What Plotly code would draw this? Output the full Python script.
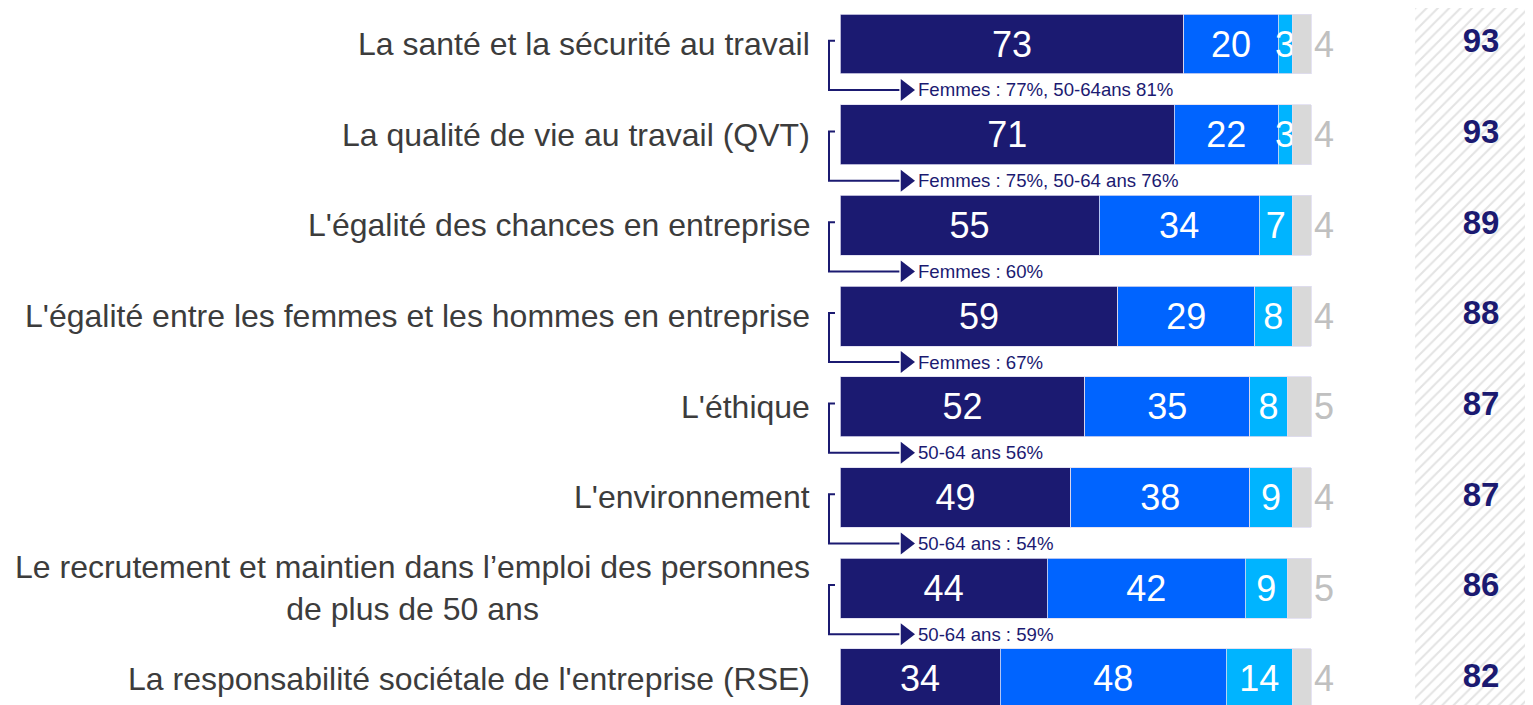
import plotly.graph_objects as go

# --- data -----------------------------------------------------------------
categories = [
    "La santé et la sécurité au travail",
    "La qualité de vie au travail (QVT)",
    "L'égalité des chances en entreprise",
    "L'égalité entre les femmes et les hommes en entreprise",
    "L'éthique",
    "L'environnement",
    "Le recrutement et maintien dans l’emploi des personnes<br>de plus de 50 ans",
    "La responsabilité sociétale de l'entreprise (RSE)",
]
tres_important = [73, 71, 55, 59, 52, 49, 44, 34]
assez_important = [20, 22, 34, 29, 35, 38, 42, 48]
peu_important = [3, 3, 7, 8, 8, 9, 9, 14]
pas_important = [4, 4, 4, 4, 5, 4, 5, 4]
totals = [93, 93, 89, 88, 87, 87, 86, 82]
notes = [
    "Femmes : 77%, 50-64ans 81%",
    "Femmes : 75%, 50-64 ans 76%",
    "Femmes : 60%",
    "Femmes : 67%",
    "50-64 ans 56%",
    "50-64 ans : 54%",
    "50-64 ans : 59%",
    "",
]

# --- style ----------------------------------------------------------------
FONT = "Arial, Liberation Sans, sans-serif"
NAVY = "#1b1a71"
BLUE = "#0064ff"
CYAN = "#00b4ff"
GREY = "#d9d9d9"
GREY_TXT = "#c0c0c0"
LABEL_TXT = "#3c3c3c"

rows = list(range(len(categories)))

fig = go.Figure()

# hatched panel behind the totals
fig.add_trace(go.Scatter(
    x=[122.1, 150, 150, 122.1, 122.1], y=[-1, -1, 9, 9, -1],
    mode="lines", fill="toself", line=dict(width=0),
    fillcolor="white",
    fillpattern=dict(shape="/", fgcolor="#c8c8c8", bgcolor="white",
                     size=8, solidity=0.26),
    hoverinfo="skip", showlegend=False,
))

segments = [
    ("Très important", tres_important, NAVY, "inside", "white"),
    ("Assez important", assez_important, BLUE, "inside", "white"),
    ("Peu important", peu_important, CYAN, "inside", "white"),
    ("Pas important", pas_important, GREY, "outside", GREY_TXT),
]
for name, vals, color, pos, tcolor in segments:
    fig.add_trace(go.Bar(
        name=name, orientation="h", y=rows, x=vals,
        width=0.66,
        marker=dict(color=color, line=dict(color="#dedcf0", width=0.8)),
        text=vals, textposition=pos, textangle=0,
        insidetextanchor="middle", constraintext="none",
        textfont=dict(family=FONT, size=36, color=tcolor),
        cliponaxis=False,
        showlegend=False,
    ))

# totals
fig.add_trace(go.Scatter(
    x=[136.1] * len(totals), y=rows, mode="text",
    text=[str(t) for t in totals], textposition="middle center",
    textfont=dict(family=FONT, size=33, color=NAVY, weight="bold"),
    hoverinfo="skip", showlegend=False,
))

# brackets with arrows towards the notes
bx, by = [], []
tips_x, tips_y = [], []
for r, note in zip(rows, notes):
    if not note:
        continue
    top, bot = r - 0.035, r + 0.507
    bx += [-1.06, -2.34, -2.34, 12.6, None]
    by += [top, top, bot, bot, None]
    tips_x.append(13.9)
    tips_y.append(bot)
    fig.add_annotation(
        x=16.2, y=bot, xref="x", yref="y", text=note, showarrow=False,
        xanchor="left", yanchor="middle",
        font=dict(family=FONT, size=18.6, color=NAVY),
    )
fig.add_trace(go.Scatter(
    x=bx, y=by, mode="lines", line=dict(color=NAVY, width=2),
    hoverinfo="skip", showlegend=False,
))
fig.add_trace(go.Scatter(
    x=tips_x, y=tips_y, mode="markers",
    marker=dict(symbol="triangle-right", size=19, color=NAVY),
    hoverinfo="skip", showlegend=False, cliponaxis=False,
))

# category labels
for r, cat in zip(rows, categories):
    fig.add_annotation(
        x=-5.9, y=r, xref="x", yref="y", text=cat, showarrow=False,
        xanchor="right", yanchor="middle", align="center",
        font=dict(family=FONT, size=32, color=LABEL_TXT),
    )

fig.update_layout(
    barmode="stack",
    width=1525, height=697,
    margin=dict(l=0, r=0, t=0, b=0),
    plot_bgcolor="white", paper_bgcolor="white",
    xaxis=dict(domain=[0.5, 1], range=[-14.76, 147.13], visible=False,
               fixedrange=True),
    yaxis=dict(range=[7.288, -0.397], visible=False, fixedrange=True),
    showlegend=False,
)

fig.write_html("out.html")
